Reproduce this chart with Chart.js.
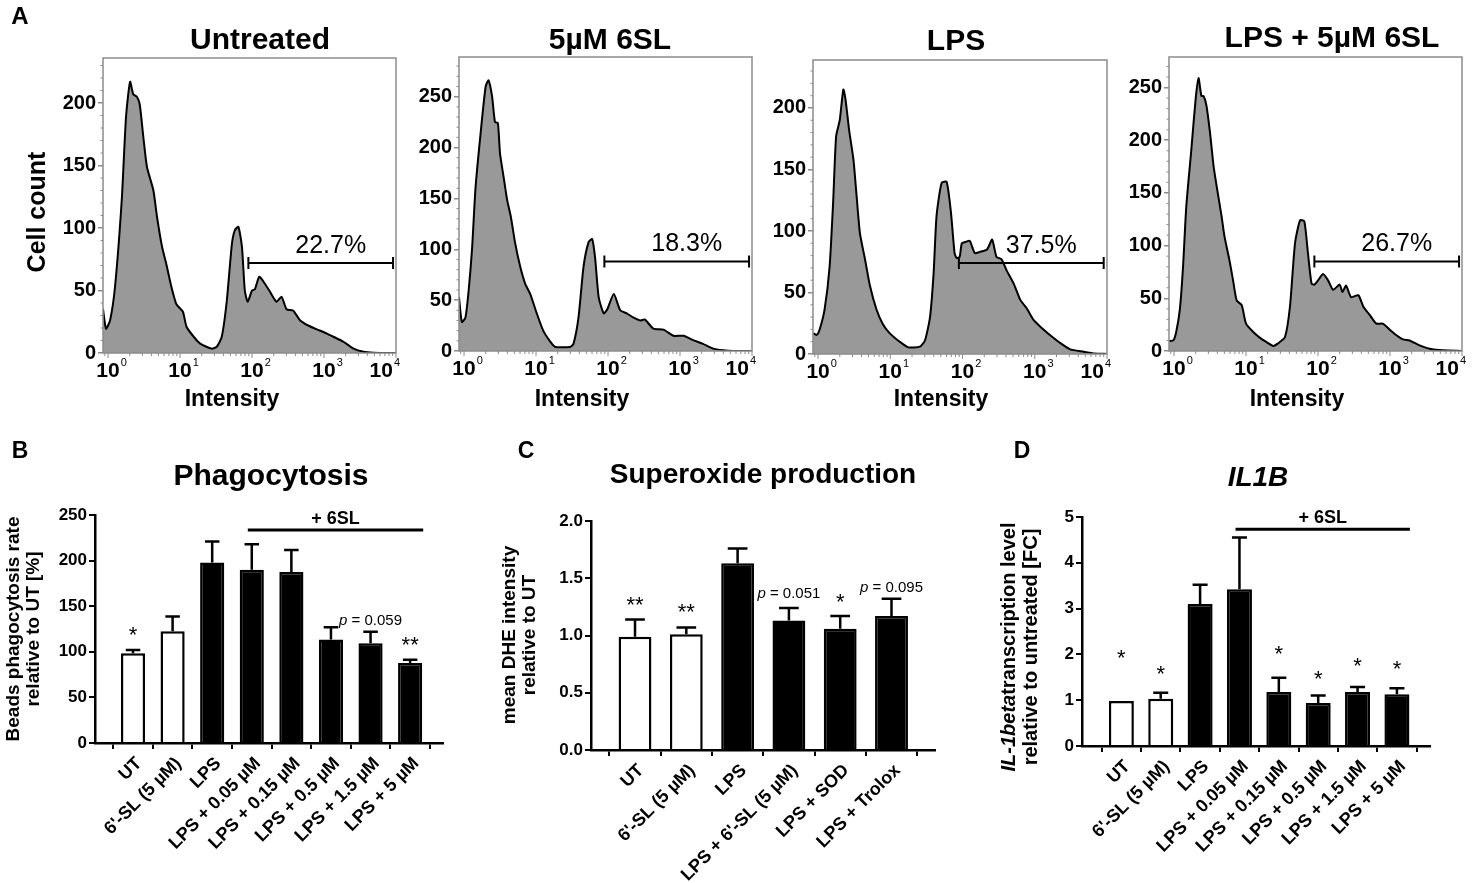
<!DOCTYPE html>
<html lang="en">
<head>
<meta charset="UTF-8" />
<title>6'-SL and macrophage activation</title>
<script src="https://cdn.jsdelivr.net/npm/chart.js"></script>
<style>
  body { margin: 0; background: #fff; }
  #fig { position: relative; width: 1472px; height: 883px; overflow: hidden;
         font-family: "Liberation Sans", Arial, sans-serif; color: #000; }
  #fig canvas { position: absolute; }
  .txt { position: absolute; font-weight: bold; white-space: nowrap; line-height: 1;
         transform: translate(-50%, -50%); }
  .vert { text-align: center; transform: translate(-50%, -50%) rotate(-90deg); }
</style>
</head>
<body>
<div id="fig">
  <canvas id="h1" width="415" height="420" style="left:0;top:0"></canvas>
  <canvas id="h2" width="360" height="420" style="left:405px;top:0"></canvas>
  <canvas id="h3" width="360" height="420" style="left:760px;top:0"></canvas>
  <canvas id="h4" width="357" height="420" style="left:1115px;top:0"></canvas>
  <canvas id="cB" width="430" height="463" style="left:30px;top:420px"></canvas>
  <canvas id="cC" width="450" height="463" style="left:500px;top:420px"></canvas>
  <canvas id="cD" width="475" height="463" style="left:985px;top:420px"></canvas>

  <div class="txt" style="left:20px;top:16px;font-size:24px">A</div>
  <div class="txt" style="left:260px;top:39px;font-size:30px">Untreated</div>
  <div class="txt" style="left:610px;top:39px;font-size:30px">5µM 6SL</div>
  <div class="txt" style="left:956px;top:40px;font-size:30px">LPS</div>
  <div class="txt" style="left:1332px;top:37px;font-size:30px">LPS + 5µM 6SL</div>
  <div class="txt vert" style="left:36px;top:212px;font-size:25px">Cell count</div>
  <div class="txt" style="left:232px;top:398px;font-size:23px">Intensity</div>
  <div class="txt" style="left:582px;top:398px;font-size:23px">Intensity</div>
  <div class="txt" style="left:941px;top:398px;font-size:23px">Intensity</div>
  <div class="txt" style="left:1297px;top:398px;font-size:23px">Intensity</div>

  <div class="txt" style="left:20px;top:450px;font-size:23px">B</div>
  <div class="txt" style="left:271px;top:475px;font-size:30px">Phagocytosis</div>
  <div class="txt vert" style="left:23px;top:629px;font-size:19px;line-height:20px">Beads phagocytosis rate<br>relative to UT [%]</div>

  <div class="txt" style="left:526px;top:450px;font-size:23px">C</div>
  <div class="txt" style="left:763px;top:474px;font-size:28px">Superoxide production</div>
  <div class="txt vert" style="left:519px;top:635px;font-size:19px;line-height:20px">mean DHE intensity<br>relative to UT</div>

  <div class="txt" style="left:1022px;top:450px;font-size:23px">D</div>
  <div class="txt" style="left:1258px;top:477px;font-size:28px;font-style:italic">IL1B</div>
  <div class="txt vert" style="left:1019px;top:647px;font-size:20px;line-height:22px"><i>IL-1beta</i>transcription level<br>relative to untreated [FC]</div>
</div>

<script>
  const FAMILY = '"Liberation Sans", Arial, sans-serif';
  Chart.defaults.font.family = FAMILY;
  Chart.defaults.color = "#000";

  // ---- A: flow cytometry histograms (log10 intensity, cell count) ----
  const untreatedLogI = [-0.07, -0.028, 0.028, 0.097, 0.19, 0.25, 0.306, 0.35, 0.40, 0.44, 0.49, 0.54, 0.63, 0.68, 0.75, 0.81, 0.88, 0.95, 1.04, 1.09, 1.19, 1.28, 1.44, 1.51, 1.58, 1.65, 1.72, 1.76, 1.81, 1.86, 1.90, 1.94, 2.0, 2.04, 2.10, 2.16, 2.25, 2.34, 2.41, 2.48, 2.57, 2.67, 2.78, 2.94, 3.04, 3.13, 3.27, 3.41, 3.55, 3.69, 4.0];
  const untreatedCount = [35, 19.5, 26, 53, 122, 189, 217, 207, 205, 199, 173, 149, 130, 109, 85, 71, 53, 39, 33, 21, 13, 7.5, 3.5, 5, 13, 42, 87, 98, 101, 85, 50, 41, 50, 51, 61, 57, 49, 41, 45, 35, 34, 26, 22, 18, 15.5, 13, 9, 3.5, 1, 0.3, 0];

  const sl6LogI = [-0.07, -0.03, 0.02, 0.065, 0.11, 0.16, 0.23, 0.30, 0.34, 0.39, 0.43, 0.47, 0.50, 0.55, 0.60, 0.65, 0.71, 0.78, 0.85, 0.92, 1.01, 1.10, 1.20, 1.27, 1.47, 1.52, 1.59, 1.66, 1.73, 1.78, 1.82, 1.87, 1.94, 1.99, 2.08, 2.17, 2.26, 2.35, 2.45, 2.51, 2.63, 2.77, 2.91, 3.05, 3.19, 3.32, 3.46, 3.60, 3.74, 4.0];
  const sl6Count = [53, 28.5, 33, 60, 99, 161, 214, 260, 266, 250, 225, 224, 194, 171, 148, 132, 106, 83, 66, 56, 37, 20, 9, 4, 4, 7, 33, 83, 107, 110, 92, 53, 37, 41, 56, 40, 37, 33, 30, 31, 22, 21, 15, 15, 10.5, 7, 2.3, 0.7, 0, 0];

  const lpsLogI = [-0.07, -0.02, 0.02, 0.09, 0.16, 0.21, 0.25, 0.30, 0.35, 0.38, 0.43, 0.49, 0.53, 0.58, 0.65, 0.72, 0.81, 0.90, 0.99, 1.13, 1.25, 1.41, 1.48, 1.55, 1.60, 1.64, 1.71, 1.78, 1.84, 1.89, 1.92, 1.96, 1.99, 2.04, 2.10, 2.17, 2.24, 2.34, 2.41, 2.47, 2.54, 2.61, 2.71, 2.80, 2.89, 2.98, 3.10, 3.21, 3.35, 3.49, 3.68, 3.82, 4.0];
  const lpsCount = [17, 15.5, 19.5, 36, 71, 125, 177, 190, 215, 207, 182, 158, 131, 98, 77, 55, 36, 24, 17, 10, 5.4, 6, 11, 30, 66, 112, 139, 140, 115, 82, 78, 79, 90, 91, 92, 82, 83, 85, 93, 79, 77, 68, 57, 44, 37, 28, 21, 15.5, 9, 3.8, 1.9, 0.5, 0];

  const lpsSl6LogI = [-0.07, -0.01, 0.03, 0.08, 0.125, 0.17, 0.24, 0.30, 0.34, 0.38, 0.41, 0.45, 0.50, 0.55, 0.60, 0.66, 0.70, 0.77, 0.82, 0.87, 0.94, 1.00, 1.10, 1.19, 1.28, 1.38, 1.44, 1.54, 1.61, 1.68, 1.75, 1.81, 1.86, 1.91, 1.95, 2.0, 2.07, 2.14, 2.21, 2.30, 2.34, 2.39, 2.46, 2.56, 2.63, 2.72, 2.81, 2.90, 3.0, 3.09, 3.18, 3.27, 3.41, 3.55, 3.74, 4.0];
  const lpsSl6Count = [9.5, 10, 18, 39, 80, 137, 191, 239, 259, 242, 242, 233, 207, 175, 153, 128, 109, 86, 67, 48, 43.5, 26, 18, 12.7, 8.6, 4.8, 7, 13, 42, 102, 124, 123, 93, 64, 63, 67, 73, 67, 58, 63, 56, 62, 51, 53, 42, 34, 26, 26, 20, 15, 11, 10, 5.4, 2.2, 0.6, 0];

  const gatePercent = ["22.7%", "18.3%", "37.5%", "26.7%"];
  const gateFrom = [89, 89, 89, 89];
  const gateTo = [9100, 9100, 9000, 9100];
  const gateLevel = [72, 88, 74, 85];

  const decades = [1, 10, 100, 1000, 10000];

  // ---- B: phagocytosis ----
  const phagoLabels = ["UT", "6'-SL (5 µM)", "LPS", "LPS + 0.05 µM", "LPS + 0.15 µM", "LPS + 0.5 µM", "LPS + 1.5 µM", "LPS + 5 µM"];
  const phagoMean = [98.5, 122.6, 198, 190, 187.6, 113.5, 109.5, 87.6];
  const phagoErr = [3.5, 16, 23, 28, 24, 13.5, 12.5, 3.6];
  const phagoMarks = ["*", "", "", "", "", "", "p = 0.059", "**"];
  const phagoMarkAt = [124, null, null, null, null, null, 135, 113];

  // ---- C: superoxide ----
  const superLabels = ["UT", "6'-SL (5 µM)", "LPS", "LPS + 6'-SL (5 µM)", "LPS + SOD", "LPS + Trolox"];
  const superMean = [0.99, 1.01, 1.63, 1.13, 1.06, 1.17];
  const superErr = [0.15, 0.06, 0.13, 0.11, 0.11, 0.15];
  const superMarks = ["**", "**", "", "p = 0.051", "*", "p = 0.095"];
  const superMarkAt = [1.31, 1.25, null, 1.37, 1.34, 1.42];

  // ---- D: IL1B ----
  const il1bLabels = ["UT", "6'-SL (5 µM)", "LPS", "LPS + 0.05 µM", "LPS + 0.15 µM", "LPS + 0.5 µM", "LPS + 1.5 µM", "LPS + 5 µM"];
  const il1bMean = [0.98, 1.03, 3.10, 3.42, 1.18, 0.94, 1.18, 1.13];
  const il1bErr = [0, 0.13, 0.42, 1.13, 0.31, 0.16, 0.11, 0.13];
  const il1bMarks = ["*", "*", "", "", "*", "*", "*", "*"];
  const il1bMarkAt = [2.02, 1.69, null, null, 2.11, 1.57, 1.86, 1.79];

  // frame, minor ticks, 10^n labels and gate for the histograms
  const histDecor = {
    id: "histDecor",
    afterDatasetsDraw(chart, args, o) {
      const { ctx, chartArea: a } = chart;
      const x = chart.scales.x, y = chart.scales.y;
      ctx.save();
      ctx.strokeStyle = "#8c8c8c";
      ctx.lineWidth = 1.5;
      ctx.strokeRect(a.left, a.top, a.right - a.left, a.bottom - a.top);

      ctx.lineWidth = 1;
      ctx.beginPath();
      for (let v = 10; v < y.max; v += 10) {
        if (v % 50 === 0) continue;
        const py = y.getPixelForValue(v);
        ctx.moveTo(a.left - 2.5, py);
        ctx.lineTo(a.left, py);
      }
      const xt = [0.9];
      for (let e = 0; e < 4; e++) for (let m = 1; m < 10; m++) xt.push(m * 10 ** e);
      xt.push(10000);
      xt.forEach((v) => {
        const px = x.getPixelForValue(v);
        const major = decades.includes(v);
        ctx.moveTo(px, a.bottom);
        ctx.lineTo(px, a.bottom + (major ? 5 : 3));
      });
      ctx.stroke();

      ctx.fillStyle = "#000";
      ctx.textBaseline = "alphabetic";
      ctx.textAlign = "left";
      decades.forEach((v, e) => {
        const px = x.getPixelForValue(v);
        ctx.font = "bold 21px " + FAMILY;
        const w1 = ctx.measureText("10").width;
        ctx.font = "11px " + FAMILY;
        const w2 = ctx.measureText(String(e)).width;
        let left = px - w1 / 2;
        if (left + w1 + w2 + 1 > a.right + 4) left = a.right + 4 - w1 - w2 - 1;
        const base = a.bottom + 24;
        ctx.font = "bold 21px " + FAMILY;
        ctx.fillText("10", left, base);
        ctx.font = "11px " + FAMILY;
        ctx.fillText(String(e), left + w1 + 1, base - 11);
      });

      const g1 = x.getPixelForValue(o.from), g2 = x.getPixelForValue(o.to);
      const gy = y.getPixelForValue(o.level);
      ctx.strokeStyle = "#000";
      ctx.lineWidth = 2;
      ctx.beginPath();
      ctx.moveTo(g1, gy); ctx.lineTo(g2, gy);
      ctx.moveTo(g1, gy - 6); ctx.lineTo(g1, gy + 6);
      ctx.moveTo(g2, gy - 6); ctx.lineTo(g2, gy + 6);
      ctx.stroke();
      ctx.font = "25px " + FAMILY;
      ctx.textAlign = "center";
      ctx.fillText(o.text, (g1 + g2) / 2 + 10, gy - 10);
      ctx.restore();
    },
  };

  function histogram(id, logI, counts, yMax, g, k) {
    new Chart(document.getElementById(id), {
      type: "line",
      data: {
        datasets: [{
          data: logI.map((l, i) => ({ x: 10 ** l, y: counts[i] })),
          borderColor: "#000",
          borderWidth: 2,
          backgroundColor: "#999999",
          fill: "origin",
          pointRadius: 0,
          tension: 0.2,
        }],
      },
      options: {
        responsive: false,
        animation: false,
        layout: { padding: { left: 0, top: g.top, right: g.right, bottom: 0 } },
        plugins: {
          legend: { display: false },
          tooltip: { enabled: false },
          histDecor: { from: gateFrom[k], to: gateTo[k], level: gateLevel[k], text: gatePercent[k] },
        },
        scales: {
          x: {
            type: "logarithmic",
            min: 10 ** -0.07,
            max: 10000,
            afterBuildTicks: (s) => { s.ticks = decades.map((v) => ({ value: v })); },
            afterFit: (s) => { s.height = g.xH; },
            ticks: { display: false },
            grid: { display: false },
            border: { display: false },
          },
          y: {
            min: 0,
            max: yMax,
            afterFit: (s) => { s.width = g.yW; },
            ticks: { stepSize: 50, includeBounds: false, font: { size: 20, weight: "bold" }, padding: 2 },
            grid: { drawOnChartArea: false, tickLength: 5, color: "#8c8c8c", lineWidth: 1.5 },
            border: { display: false },
          },
        },
      },
      plugins: [histDecor],
    });
  }

  histogram("h1", untreatedLogI, untreatedCount, 236, { yW: 103, xH: 67, top: 58, right: 19 }, 0);
  histogram("h2", sl6LogI, sl6Count, 289, { yW: 54, xH: 69, top: 57, right: 13 }, 1);
  histogram("h3", lpsLogI, lpsCount, 239, { yW: 53, xH: 66, top: 60, right: 13 }, 2);
  histogram("h4", lpsSl6LogI, lpsSl6Count, 279, { yW: 54, xH: 69, top: 57, right: 10 }, 3);

  // error bars, significance marks and "+ 6SL" bracket for bar charts
  const barDecor = {
    id: "barDecor",
    afterDatasetsDraw(chart, args, o) {
      const { ctx } = chart;
      const x = chart.scales.x, y = chart.scales.y;
      const bars = chart.getDatasetMeta(0).data;
      ctx.save();
      ctx.strokeStyle = "#000";
      ctx.fillStyle = "#000";
      ctx.lineWidth = 2.5;
      bars.forEach((b, i) => {
        if (!o.err[i]) return;
        const top = y.getPixelForValue(o.mean[i] + o.err[i]);
        const half = b.width * 0.3;
        ctx.beginPath();
        ctx.moveTo(b.x, b.y); ctx.lineTo(b.x, top);
        ctx.moveTo(b.x - half, top); ctx.lineTo(b.x + half, top);
        ctx.stroke();
      });

      ctx.textBaseline = "alphabetic";
      o.marks.forEach((m, i) => {
        if (!m) return;
        const px = bars[i].x, py = y.getPixelForValue(o.markAt[i]);
        if (m.startsWith("p")) {
          const rest = m.slice(1);
          ctx.font = "italic 15px " + FAMILY;
          const w1 = ctx.measureText("p").width;
          ctx.font = "15px " + FAMILY;
          const w2 = ctx.measureText(rest).width;
          const left = px - (w1 + w2) / 2;
          ctx.textAlign = "left";
          ctx.font = "italic 15px " + FAMILY;
          ctx.fillText("p", left, py + 5);
          ctx.font = "15px " + FAMILY;
          ctx.fillText(rest, left + w1, py + 5);
        } else {
          ctx.font = "22px " + FAMILY;
          ctx.textAlign = "center";
          ctx.fillText(m, px, py + 12);
        }
      });

      if (o.bracket) {
        const b = o.bracket;
        const x1 = x.getPixelForValue(b.from), x2 = x.getPixelForValue(b.to);
        const ly = y.getPixelForValue(b.at);
        ctx.lineWidth = 3;
        ctx.beginPath();
        ctx.moveTo(x1, ly); ctx.lineTo(x2, ly);
        ctx.stroke();
        ctx.font = "bold 18px " + FAMILY;
        ctx.textAlign = "center";
        ctx.textBaseline = "middle";
        ctx.fillText(b.text, (x1 + x2) / 2, y.getPixelForValue(b.textAt));
      }
      ctx.restore();
    },
  };

  function barChart(id, c) {
    const axisLine = { display: true, color: "#000", width: 2.5 };
    const tickGrid = { drawOnChartArea: false, drawTicks: true, tickLength: 6, color: "#000", lineWidth: 2 };
    new Chart(document.getElementById(id), {
      type: "bar",
      data: {
        datasets: [{
          data: c.mean.map((v, i) => ({ x: i, y: v })),
          backgroundColor: c.mean.map((v, i) => (i < c.white ? "#fff" : "#000")),
          borderColor: "#000",
          borderWidth: 2.5,
          barPercentage: c.barPct,
          categoryPercentage: 1,
        }],
      },
      options: {
        responsive: false,
        animation: false,
        layout: { padding: { left: 0, top: c.g.top, right: c.g.right, bottom: 0 } },
        plugins: {
          legend: { display: false },
          tooltip: { enabled: false },
          barDecor: { mean: c.mean, err: c.err, marks: c.marks, markAt: c.markAt, bracket: c.bracket },
        },
        scales: {
          x: {
            type: "linear",
            offset: false,
            min: c.span[0],
            max: c.span[1],
            afterBuildTicks: (s) => { s.ticks = c.labels.map((_, i) => ({ value: i })); },
            afterFit: (s) => { s.height = c.g.xH; },
            ticks: {
              autoSkip: false, minRotation: 45, maxRotation: 45, padding: 4, labelOffset: 6,
              font: { size: 18, weight: "bold" },
              callback: (v) => c.labels[Math.round(v)],
            },
            grid: tickGrid,
            border: axisLine,
          },
          y: {
            min: 0,
            max: c.yMax,
            afterFit: (s) => { s.width = c.g.yW; },
            ticks: { stepSize: c.step, font: { size: 17, weight: "bold" }, padding: 2, callback: c.fmt },
            grid: tickGrid,
            border: axisLine,
          },
        },
      },
      plugins: [barDecor],
    });
  }

  barChart("cB", {
    labels: phagoLabels, mean: phagoMean, err: phagoErr, marks: phagoMarks, markAt: phagoMarkAt,
    white: 2, barPct: 0.61, span: [-0.96, 7.83], yMax: 250, step: 50, fmt: (v) => v,
    g: { yW: 65, xH: 140, top: 95, right: 17 },
    bracket: { from: 2.9, to: 7.33, at: 233.6, text: "+ 6SL", textAt: 246 },
  });

  barChart("cC", {
    labels: superLabels, mean: superMean, err: superErr, marks: superMarks, markAt: superMarkAt,
    white: 2, barPct: 0.64, span: [-0.858, 5.848], yMax: 2, step: 0.5, fmt: (v) => v.toFixed(1),
    g: { yW: 91, xH: 133, top: 101, right: 15 },
    bracket: null,
  });

  barChart("cD", {
    labels: il1bLabels, mean: il1bMean, err: il1bErr, marks: il1bMarks, markAt: il1bMarkAt,
    white: 2, barPct: 0.635, span: [-1.0, 7.84], yMax: 5, step: 1, fmt: (v) => v,
    g: { yW: 97, xH: 137, top: 97, right: 30 },
    bracket: { from: 2.9, to: 7.33, at: 4.73, text: "+ 6SL", textAt: 4.98 },
  });
</script>
</body>
</html>
